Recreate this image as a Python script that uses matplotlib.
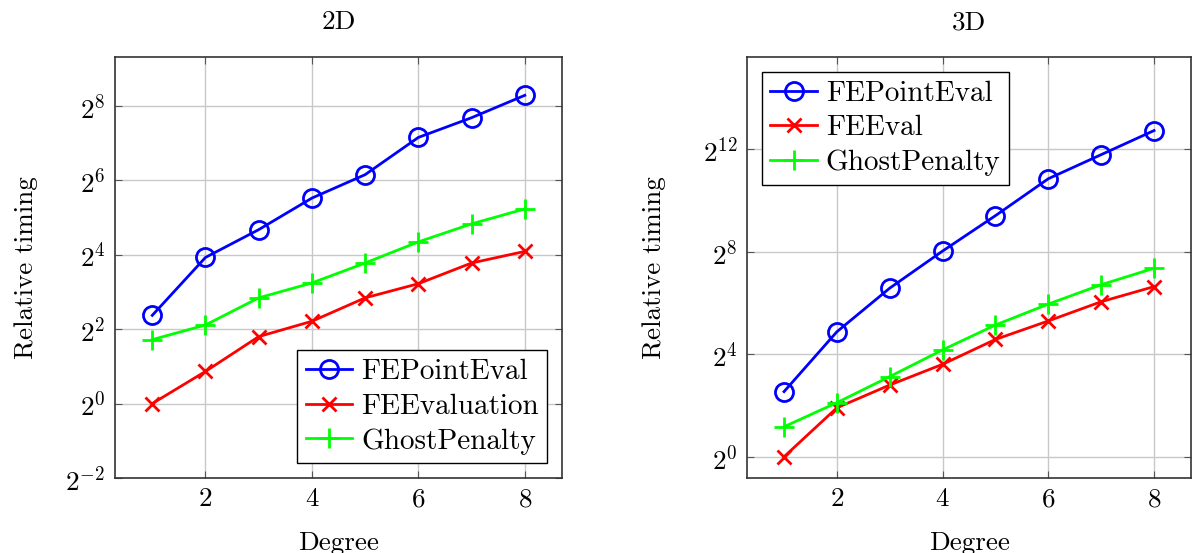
import math
import matplotlib
matplotlib.use('Agg')
import matplotlib.pyplot as plt
from matplotlib.ticker import FuncFormatter, NullLocator

plt.rcParams['font.family'] = 'serif'
plt.rcParams['font.serif'] = ['cmr10']
plt.rcParams['mathtext.fontset'] = 'cm'
plt.rcParams['axes.unicode_minus'] = False
plt.rcParams['axes.formatter.use_mathtext'] = True

degree = [1, 2, 3, 4, 5, 6, 7, 8]

# 2D timings
pointeval_2d = [5.17, 15.2, 25.5, 45.9, 71.0, 142, 205, 311]
feeval_2d = [1.0, 1.82, 3.48, 4.63, 7.16, 9.32, 13.7, 17.0]
ghost_2d = [3.29, 4.32, 7.16, 9.45, 13.7, 20.3, 28.4, 37.5]

# 3D timings
pointeval_3d = [5.82, 29.4, 95.7, 261, 680, 1846, 3541, 6794]
feeval_3d = [1.0, 3.76, 6.96, 12.2, 23.9, 39.4, 66.3, 99.7]
ghost_3d = [2.25, 4.32, 8.75, 18.0, 35.3, 62.2, 105, 164]

fs = 19.5
leg_fs = 21


def pow2_label(v, pos):
    return r'$2^{%d}$' % round(math.log2(v))


def draw_panel(ax, title, pe, fe, gp, fe_label, yticks_exp, ylim, legend_loc, ylabel_pad):
    ax.plot(degree, pe, color='#0000ff', lw=2, marker='o', ms=13, mfc='none', mew=2, label='FEPointEval')
    ax.plot(degree, fe, color='#ff0000', lw=2, marker='x', ms=10, mew=2, label=fe_label)
    ax.plot(degree, gp, color='#00ff00', lw=2, marker='+', ms=14, mew=2, label='GhostPenalty')
    ax.set_yscale('log', base=2)
    ax.set_xlim(0.3, 8.7)
    ax.set_ylim(*ylim)
    ax.set_xticks([2, 4, 6, 8])
    ax.set_yticks([2.0 ** k for k in yticks_exp])
    ax.yaxis.set_minor_locator(NullLocator())
    ax.yaxis.set_major_formatter(FuncFormatter(pow2_label))
    ax.grid(True, color='#c8c8c8', lw=1)
    ax.set_axisbelow(True)
    ax.tick_params(direction='in', top=True, right=True, labelsize=fs, length=5, color='#555555', pad=7)
    for s in ax.spines.values():
        s.set_color('#333333')
        s.set_linewidth(1.2)
    ax.set_title(title, fontsize=fs, pad=20)
    ax.set_xlabel('Degree', fontsize=fs, labelpad=14)
    ax.set_ylabel('Relative timing', fontsize=fs, labelpad=ylabel_pad)
    leg = ax.legend(loc=legend_loc, fontsize=leg_fs, fancybox=False, edgecolor='black',
                    framealpha=1, handlelength=1.6, borderpad=0.3, labelspacing=0.28,
                    handletextpad=0.3, borderaxespad=0.5)
    leg.get_frame().set_linewidth(1)


fig = plt.figure(figsize=(11.92, 5.53), dpi=100)
ax1 = fig.add_axes([0.0965, 0.1356, 0.375, 0.7613])
ax2 = fig.add_axes([0.6267, 0.1356, 0.3725, 0.7613])

draw_panel(ax1, '2D', pointeval_2d, feeval_2d, ghost_2d, 'FEEvaluation',
           [-2, 0, 2, 4, 6, 8], (2 ** -2, 2 ** 9.31), 'lower right', 20)
draw_panel(ax2, '3D', pointeval_3d, feeval_3d, ghost_3d, 'FEEval',
           [0, 4, 8, 12], (2 ** -0.83, 2 ** 15.6), 'upper left', 26)

fig.savefig('out.png', dpi=100)
